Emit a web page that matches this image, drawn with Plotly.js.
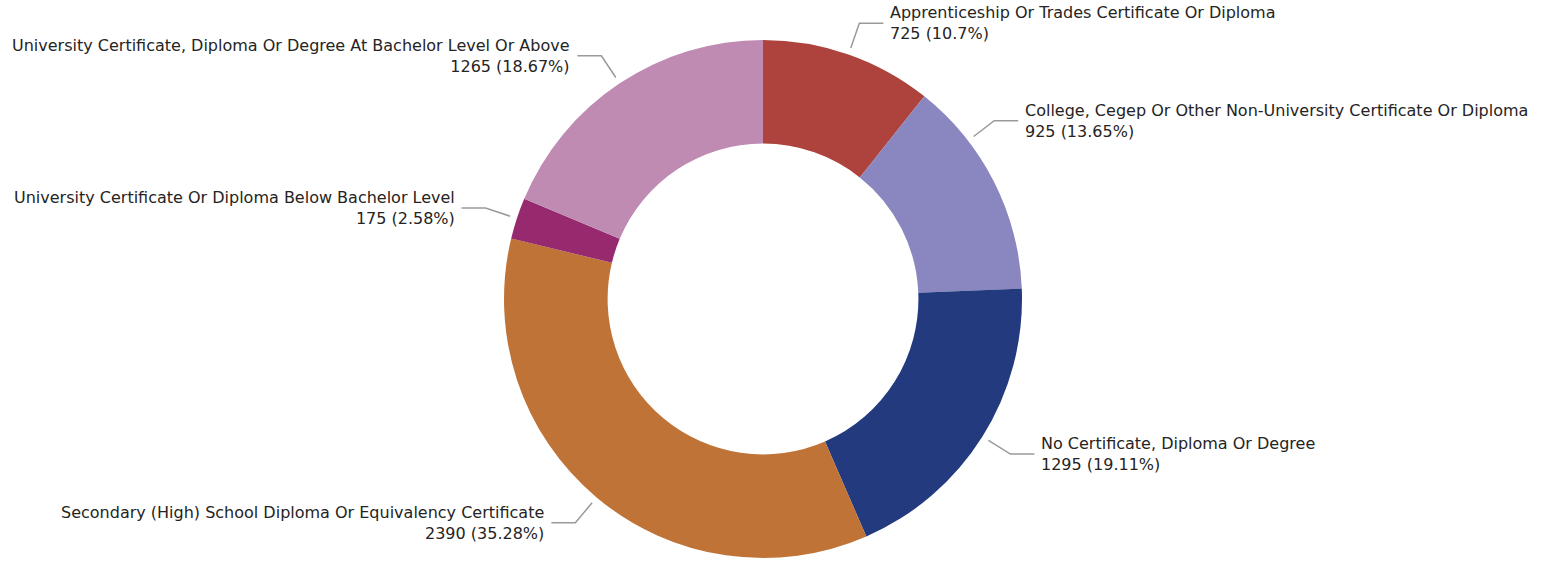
<!DOCTYPE html>
<html>
<head>
<meta charset="utf-8">
<script src="https://cdn.plot.ly/plotly-3.0.1.min.js"></script>
<style>html,body{margin:0;padding:0;background:#fff;}#chart{width:1543px;height:561px;}</style>
</head>
<body>
<div id="chart"></div>
<script>
const categories = [
  "Apprenticeship Or Trades Certificate Or Diploma",
  "College, Cegep Or Other Non-University Certificate Or Diploma",
  "No Certificate, Diploma Or Degree",
  "Secondary (High) School Diploma Or Equivalency Certificate",
  "University Certificate Or Diploma Below Bachelor Level",
  "University Certificate, Diploma Or Degree At Bachelor Level Or Above"
];
const values = [725, 925, 1295, 2390, 175, 1265];
const colors = ["#AD433C", "#8986C0", "#233A7F", "#BF7337", "#97296E", "#BF8BB2"];

const W = 1543, H = 561;
const FONT = "DejaVu Sans", FSIZE = 16;
const dom = {x: [0, 0.989], y: [3 / H, (H - 40) / H]};
const total = values.reduce((a, b) => a + b, 0);
const pctText = values.map(v => v + " (" + (+(v / total * 100).toFixed(2)) + "%)");

// geometry derived from the pie domain (same rule Plotly uses for radius)
const cx = W * (dom.x[0] + dom.x[1]) / 2;
const cy = H * (1 - (dom.y[0] + dom.y[1]) / 2);
const R = Math.min(W * (dom.x[1] - dom.x[0]), H * (dom.y[1] - dom.y[0])) / 2;
const toX = px => px / W, toY = py => 1 - py / H;

const ctx = document.createElement("canvas").getContext("2d");
ctx.font = FSIZE + 'px "' + FONT + '"';
const textW = i => Math.max(ctx.measureText(categories[i]).width, ctx.measureText(pctText[i]).width);

const shapes = [], annotations = [];
let cum = 0;
values.forEach((v, i) => {
  let mid = (cum + v / 2) / total * 2 * Math.PI;
  const lo = cum / total * 2 * Math.PI, hi = (cum + v) / total * 2 * Math.PI;
  cum += v;
  const tw = textW(i);
  const geom = a => {
    const s = Math.sin(a), c = Math.cos(a);
    const right = s >= 0;
    const x2 = cx + (R + 33) * s, y2 = cy - (R + 33) * c;
    const x3 = x2 + (right ? 24 : -24);
    const tx = x3 + (right ? 5 : -5);
    const fits = right ? (tx + tw <= W - 16) : (tx - tw >= 8);
    return {s, c, right, x2, y2, x3, tx, fits};
  };
  let g = geom(mid);
  // slide the label anchor within its slice toward the vertical axis until the text fits
  const step = Math.PI / 720;
  while (!g.fits) {
    const toward = (g.c >= 0) ? (g.right ? -step : step) : (g.right ? step : -step);
    const next = mid + toward;
    if (next < lo || next > hi) break;
    mid = next;
    g = geom(mid);
  }
  const x1 = cx + (R + 7) * g.s, y1 = cy - (R + 7) * g.c;
  shapes.push({
    type: "path", xref: "paper", yref: "paper",
    path: `M${toX(x1)},${toY(y1)} L${toX(g.x2)},${toY(g.y2)} L${toX(g.x3)},${toY(g.y2)}`,
    line: {color: "#9a9a9a", width: 1.5}
  });
  annotations.push({
    xref: "paper", yref: "paper",
    x: toX(g.tx), y: toY(g.y2),
    xanchor: g.right ? "left" : "right", yanchor: "middle",
    align: g.right ? "left" : "right",
    showarrow: false,
    text: categories[i] + "<br>" + pctText[i],
    font: {family: FONT + ", sans-serif", size: FSIZE, color: "#252423"}
  });
});

const data = [{
  type: "pie",
  labels: categories,
  values: values,
  sort: false,
  direction: "clockwise",
  rotation: 0,
  hole: 0.6,
  domain: dom,
  marker: {colors: colors, line: {width: 0}},
  textinfo: "none",
  textposition: "none",
  hoverinfo: "label+value+percent"
}];

const layout = {
  width: W, height: H,
  margin: {l: 0, r: 0, t: 0, b: 0},
  paper_bgcolor: "#ffffff",
  showlegend: false,
  shapes: shapes,
  annotations: annotations
};

Plotly.newPlot("chart", data, layout, {displayModeBar: false, staticPlot: true});
</script>
</body>
</html>
